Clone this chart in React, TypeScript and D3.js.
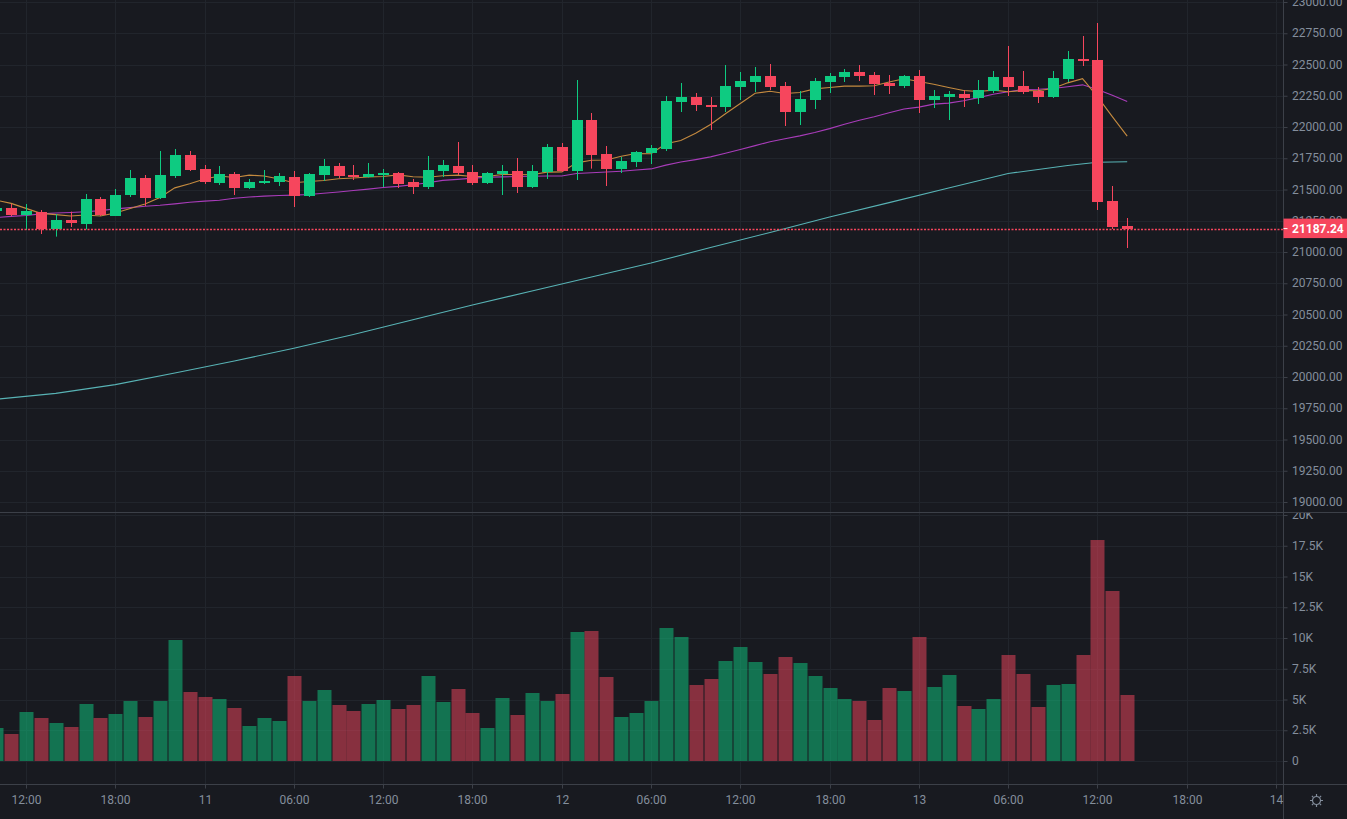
import React from 'react';
import * as d3 from 'd3';

// hourly candles, first one at 10:00 on the 10th
const opens = [
  21331, 21352, 21296, 21320, 21184, 21256, 21224, 21424, 21288, 21456,
  21592, 21432, 21608, 21776, 21664, 21552, 21624, 21512, 21552, 21560,
  21600, 21448, 21616, 21688, 21616, 21600, 21616, 21632, 21560, 21520,
  21648, 21688, 21640, 21552, 21624, 21648, 21520, 21640, 21840, 21648,
  22056, 21784, 21664, 21720, 21792, 21824, 22200, 22240, 22176, 22160,
  22320, 22360, 22408, 22328, 22120, 22216, 22360, 22400, 22440, 22416,
  22352, 22328, 22408, 22216, 22240, 22264, 22232, 22288, 22400, 22328,
  22288, 22240, 22384, 22544, 22536, 21408, 21208,
];
const highs = [
  21358, 21384, 21384, 21336, 21304, 21323, 21464, 21440, 21504, 21656,
  21616, 21808, 21824, 21808, 21696, 21688, 21640, 21584, 21656, 21632,
  21648, 21632, 21744, 21712, 21696, 21712, 21664, 21640, 21584, 21768,
  21736, 21880, 21696, 21640, 21696, 21752, 21696, 21864, 21872, 22376,
  22112, 21848, 21760, 21808, 21856, 22248, 22352, 22272, 22240, 22496,
  22440, 22480, 22504, 22360, 22288, 22392, 22432, 22464, 22496, 22440,
  22416, 22416, 22456, 22296, 22288, 22296, 22376, 22448, 22648, 22448,
  22320, 22448, 22608, 22728, 22832, 21528, 21272,
];
const lows = [
  21325, 21288, 21176, 21144, 21123, 21200, 21181, 21288, 21288, 21440,
  21368, 21424, 21592, 21648, 21544, 21536, 21456, 21504, 21544, 21528,
  21360, 21440, 21568, 21592, 21576, 21596, 21520, 21512, 21464, 21504,
  21600, 21616, 21536, 21544, 21456, 21472, 21512, 21584, 21640, 21576,
  21667, 21528, 21632, 21680, 21704, 21808, 22120, 22128, 21976, 22120,
  22216, 22280, 22296, 22008, 22016, 22144, 22272, 22360, 22368, 22256,
  22264, 22312, 22112, 22152, 22056, 22160, 22184, 22272, 22248, 22264,
  22192, 22232, 22360, 22488, 21336, 21184, 21032,
];
const closes = [
  21352, 21296, 21331, 21184, 21256, 21232, 21424, 21296, 21456, 21592,
  21432, 21616, 21776, 21656, 21560, 21624, 21512, 21560, 21568, 21608,
  21448, 21624, 21688, 21608, 21600, 21624, 21632, 21544, 21520, 21656,
  21696, 21632, 21552, 21632, 21648, 21520, 21648, 21840, 21648, 22056,
  21776, 21664, 21728, 21800, 21832, 22208, 22240, 22176, 22160, 22328,
  22368, 22408, 22320, 22120, 22224, 22368, 22408, 22440, 22408, 22344,
  22328, 22408, 22216, 22248, 22264, 22232, 22296, 22400, 22320, 22280,
  22240, 22392, 22544, 22528, 21400, 21200, 21187.24,
];
const volumes = [
  2683, 2195, 3984, 3496, 3089, 2764, 4634, 3496, 3821, 4878,
  3577, 4878, 9837, 5610, 5203, 5040, 4309, 2846, 3496, 3252,
  6911, 4878, 5772, 4553, 4065, 4634, 4959, 4228, 4553, 6911,
  4797, 5854, 3902, 2683, 5122, 3740, 5528, 4878, 5447, 10488,
  10569, 6829, 3577, 3902, 4878, 10813, 10081, 6179, 6667, 8130,
  9268, 8049, 7073, 8455, 7967, 6911, 5935, 5040, 4878, 3333,
  5935, 5691, 10081, 6016, 6992, 4472, 4228, 5040, 8618, 7073,
  4390, 6179, 6260, 8618, 17967, 13821, 5366,
];

// moving averages before their window is complete
const ma7Lead = [21415, 21389, 21349, 21309, 21299, 21288];
const ma25Lead = [
  21275, 21285, 21292, 21305, 21312, 21316, 21322, 21331, 21345, 21355,
  21366, 21374, 21385, 21398, 21407, 21414, 21430, 21440, 21447, 21452,
  21455, 21460, 21470, 21480,
];
// MA(99), sampled at these candle indexes
const ma99Index = [0, 4, 8, 12, 16, 20, 24, 28, 32, 36, 40, 44, 48, 52, 56, 60, 64, 68, 72, 74, 76];
const ma99Values = [
  19822, 19869, 19939, 20032, 20128, 20230, 20340, 20458, 20576, 20688,
  20800, 20912, 21036, 21156, 21280, 21395, 21512, 21628, 21692, 21718, 21722,
];

const lastPrice = 21187.24;
const priceTicks = d3.range(19000, 23001, 250);
const volumeTicks = d3.range(0, 20001, 2500);

const WIDTH = 1347;
const HEIGHT = 819;
const AXIS_X = 1283.5;
const SEP_Y = 512.5;
const TIME_Y = 784.5;

const BG = '#181a20';
const GRID = '#21252c';
const LINE = '#3c4048';
const TEXT = '#848e9c';
const UP = '#0ecb81';
const DOWN = '#f6465d';
const FONT = 'Roboto, "Noto Sans", sans-serif';

const movingAverage = (n, lead) =>
  closes.map((c, i) => (i < n - 1 ? lead[i] : d3.mean(closes.slice(i - n + 1, i + 1))));

export default function App() {
  const firstTime = new Date(Date.UTC(2022, 7, 10, 10));
  const times = closes.map((_, i) => d3.utcHour.offset(firstTime, i));

  const x = d3
    .scaleUtc()
    .domain([new Date(Date.UTC(2022, 7, 10, 12)), new Date(Date.UTC(2022, 7, 14, 0))])
    .range([26, 1276]);
  const y = d3.scaleLinear().domain([19000, 23000]).range([502, 2]);
  const yv = d3.scaleLinear().domain([0, 20000]).range([761, 515]);

  const timeTicks = x.ticks(d3.utcHour.every(6));
  const fmtTime = (d) => (d.getUTCHours() === 0 ? d3.utcFormat('%-d')(d) : d3.utcFormat('%H:%M')(d));
  const fmtVol = (v) => (v === 0 ? '0' : `${v / 1000}K`);

  const ma7 = movingAverage(7, ma7Lead);
  const ma25 = movingAverage(25, ma25Lead);

  const line = d3
    .line()
    .x((d) => x(times[d[0]]))
    .y((d) => y(d[1]));

  const bodyW = 11;
  const barW = 14;

  return (
    <div style={{ position: 'fixed', left: 0, top: 0, width: WIDTH, height: HEIGHT, background: BG, overflow: 'hidden' }}>
      <svg width={WIDTH} height={HEIGHT} style={{ display: 'block', fontFamily: FONT }}>
        <defs>
          <clipPath id="pricePane">
            <rect x={0} y={0} width={AXIS_X} height={SEP_Y} />
          </clipPath>
          <clipPath id="volPane">
            <rect x={0} y={SEP_Y} width={AXIS_X} height={TIME_Y - SEP_Y} />
          </clipPath>
          <clipPath id="volLabels">
            <rect x={AXIS_X} y={SEP_Y + 0.5} width={WIDTH - AXIS_X} height={TIME_Y - SEP_Y} />
          </clipPath>
          <clipPath id="timeLabels">
            <rect x={0} y={TIME_Y} width={AXIS_X} height={HEIGHT - TIME_Y} />
          </clipPath>
        </defs>
        <rect width={WIDTH} height={HEIGHT} fill={BG} />

        {/* grid */}
        {priceTicks.map((p) => (
          <line key={'gp' + p} x1={0} x2={AXIS_X} y1={Math.round(y(p)) + 0.5} y2={Math.round(y(p)) + 0.5} stroke={GRID} />
        ))}
        {volumeTicks.map((v) => (
          <line key={'gv' + v} x1={0} x2={AXIS_X} y1={Math.round(yv(v)) + 0.5} y2={Math.round(yv(v)) + 0.5} stroke={GRID} />
        ))}
        {timeTicks.map((t) => (
          <line key={'gt' + +t} x1={Math.round(x(t)) + 0.5} x2={Math.round(x(t)) + 0.5} y1={0} y2={TIME_Y} stroke={GRID} />
        ))}

        {/* price pane */}
        <g clipPath="url(#pricePane)">
          <path d={line(ma99Index.map((idx, k) => [idx, ma99Values[k]]))} fill="none" stroke="#58b3b5" strokeWidth={1.1} />
          <path d={line(ma25.map((v, i) => [i, v]))} fill="none" stroke="#a93cba" strokeWidth={1.1} />
          <path d={line(ma7.map((v, i) => [i, v]))} fill="none" stroke="#c48a3f" strokeWidth={1.1} />
          {closes.map((c, i) => {
            const o = opens[i];
            const col = c >= o ? UP : DOWN;
            const cx = Math.round(x(times[i]));
            const top = Math.round(y(Math.max(o, c)));
            const bot = Math.round(y(Math.min(o, c)));
            return (
              <g key={'c' + i}>
                <line x1={cx + 0.5} x2={cx + 0.5} y1={y(highs[i])} y2={y(lows[i])} stroke={col} />
                <rect x={cx - (bodyW - 1) / 2} y={top} width={bodyW} height={Math.max(1, bot - top)} fill={col} />
              </g>
            );
          })}
          <line
            x1={0}
            x2={AXIS_X}
            y1={Math.round(y(lastPrice)) + 0.5}
            y2={Math.round(y(lastPrice)) + 0.5}
            stroke={DOWN}
            strokeWidth={1.5}
            strokeDasharray="2 1.5"
          />
        </g>

        {/* volume pane */}
        <g clipPath="url(#volPane)">
          {volumes.map((v, i) => {
            const cx = Math.round(x(times[i]));
            const col = closes[i] >= opens[i] ? UP : DOWN;
            return (
              <rect
                key={'v' + i}
                x={cx - barW / 2 + 0.5}
                y={yv(v)}
                width={barW}
                height={yv(0) - yv(v)}
                fill={col}
                fillOpacity={0.5}
              />
            );
          })}
        </g>

        {/* axes frame */}
        <line x1={AXIS_X} x2={AXIS_X} y1={0} y2={HEIGHT} stroke={LINE} />
        <line x1={0} x2={WIDTH} y1={SEP_Y} y2={SEP_Y} stroke={LINE} />
        <line x1={0} x2={WIDTH} y1={TIME_Y} y2={TIME_Y} stroke={LINE} />

        {/* price axis */}
        {priceTicks.map((p) => (
          <g key={'pl' + p} transform={`translate(0,${y(p)})`}>
            <line x1={AXIS_X} x2={AXIS_X + 4} y1={0.5} y2={0.5} stroke={LINE} />
            <text x={1292} dy="0.35em" fontSize={12} fill={TEXT}>
              {p.toFixed(2)}
            </text>
          </g>
        ))}
        <g transform={`translate(0,${y(lastPrice)})`}>
          <rect x={AXIS_X} y={-10} width={WIDTH - AXIS_X} height={19.5} fill={DOWN} />
          <line x1={AXIS_X} x2={AXIS_X + 4} y1={0} y2={0} stroke="#ffffff" />
          <text x={1292} dy="0.35em" fontSize={12} fontWeight="bold" fill="#ffffff">
            {lastPrice.toFixed(2)}
          </text>
        </g>

        {/* volume axis */}
        <g clipPath="url(#volLabels)">
          {volumeTicks.map((v) => (
            <g key={'vl' + v} transform={`translate(0,${yv(v)})`}>
              <line x1={AXIS_X} x2={AXIS_X + 4} y1={0.5} y2={0.5} stroke={LINE} />
              <text x={1292} dy="0.35em" fontSize={12} fill={TEXT}>
                {fmtVol(v)}
              </text>
            </g>
          ))}
        </g>

        {/* time axis */}
        <g clipPath="url(#timeLabels)">
          {timeTicks.map((t) => (
            <g key={'tl' + +t} transform={`translate(${Math.round(x(t)) + 0.5},0)`}>
              <line x1={0} x2={0} y1={TIME_Y} y2={TIME_Y + 4} stroke={LINE} />
              <text y={800} dy="0.35em" textAnchor="middle" fontSize={12} fill={TEXT}>
                {fmtTime(t)}
              </text>
            </g>
          ))}
        </g>

        {/* settings gear */}
        <g transform="translate(1316.5,800.5)" stroke={TEXT} fill="none">
          <circle r={4} strokeWidth={1.2} />
          {d3.range(8).map((k) => {
            const a = (k * Math.PI) / 4;
            return (
              <line
                key={'g' + k}
                x1={Math.cos(a) * 4.5}
                y1={Math.sin(a) * 4.5}
                x2={Math.cos(a) * 6.5}
                y2={Math.sin(a) * 6.5}
                strokeWidth={1.2}
              />
            );
          })}
        </g>
      </svg>
    </div>
  );
}
